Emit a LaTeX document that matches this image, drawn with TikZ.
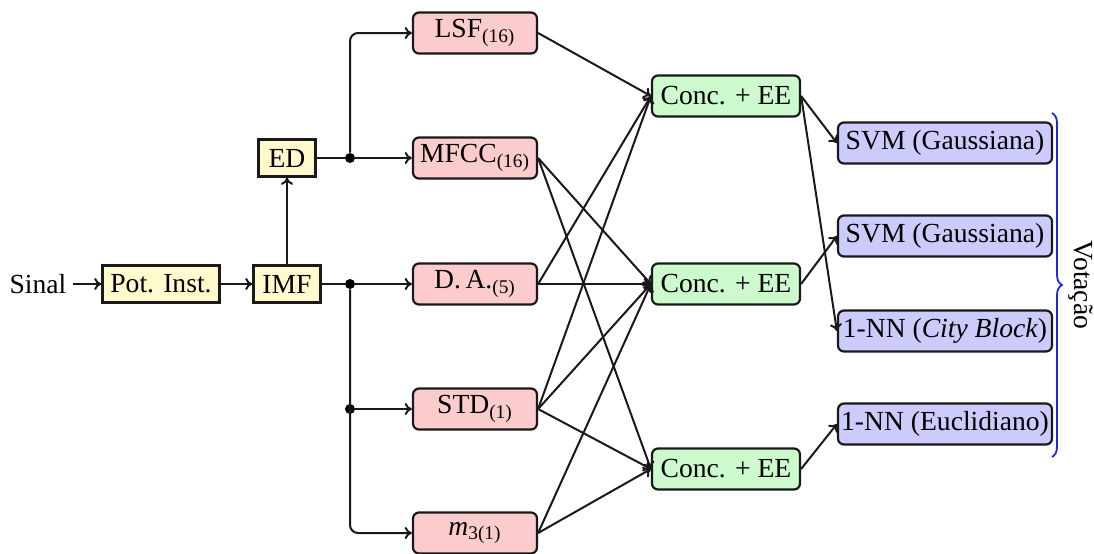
\documentclass[tikz,border=0pt]{standalone}
\usepackage{fontspec}
\setmainfont{Liberation Serif}
\usetikzlibrary{decorations.pathreplacing,arrows.meta}

\definecolor{prefill}{RGB}{255,250,205}
\definecolor{featfill}{RGB}{252,204,204}
\definecolor{concfill}{RGB}{204,250,204}
\definecolor{clsfill}{RGB}{204,204,252}
\definecolor{bracecol}{RGB}{30,40,220}

\tikzset{
  box/.style={draw=black!90, line width=1.1pt, inner sep=1pt, align=center},
  prebox/.style={box, fill=prefill, minimum height=18.5pt},
  featbox/.style={box, fill=featfill, rounded corners=3pt, minimum width=62pt, minimum height=20.5pt},
  concbox/.style={box, fill=concfill, rounded corners=3pt, minimum width=74pt, minimum height=20.5pt},
  clsbox/.style={box, fill=clsfill, rounded corners=3pt, minimum width=107pt, minimum height=20.5pt},
  wire/.style={line width=1pt, black!90},
  link/.style={wire, -{To[length=3.6pt, width=6pt]}},
  dot/.style={circle, fill=black, inner sep=0pt, minimum size=5pt}
}

\begin{document}
\begin{tikzpicture}[x=0.5pt, y=-0.5pt, font=\fontsize{13.8}{16}\selectfont]
\useasboundingbox (0,0) rectangle (1094,553);

% front end
\node (sinal) at (38,284) {Sinal};
\node[prebox, minimum width=58.5pt] (pot) at (161,284) {Pot. Inst.};
\node[prebox, minimum width=33.5pt] (imf) at (287,284) {IMF};
\node[prebox, minimum width=28.5pt] (ed) at (287,158) {ED};

% feature extractors
\node[featbox] (lsf)  at (475,33)  {LSF\textsubscript{(16)}};
\node[featbox] (mfcc) at (475,158) {MFCC\textsubscript{(16)}};
\node[featbox] (da)   at (475,284) {D.\,A.\textsubscript{(5)}};
\node[featbox] (std)  at (475,409) {STD\textsubscript{(1)}};
\node[featbox] (m3)   at (475,533) {\textit{m}\textsubscript{3(1)}};

% concatenation + feature selection
\node[concbox] (c1) at (726,96)  {Conc. + EE};
\node[concbox] (c2) at (726,284) {Conc. + EE};
\node[concbox] (c3) at (726,469) {Conc. + EE};

% classifiers
\node[clsbox] (svm1) at (945,143) {SVM (Gaussiana)};
\node[clsbox] (svm2) at (945,236) {SVM (Gaussiana)};
\node[clsbox] (nncb) at (945,331) {1-NN (\textit{City Block})};
\node[clsbox] (nneu) at (945,424) {1-NN (Euclidiano)};

% branch points
\node[dot] (j1) at (350,158) {};
\node[dot] (j2) at (350,284) {};
\node[dot] (j3) at (350,409) {};

% signal chain
\draw[link] (sinal) -- (pot);
\draw[link] (pot) -- (imf);
\draw[link] (imf) -- (ed);
\draw[wire] (ed) -- (j1);
\draw[wire] (imf) -- (j2);
\draw[link] (j1) -- (mfcc.west);
\draw[link, rounded corners=4pt] (j1) |- (lsf.west);
\draw[link] (j2) -- (da.west);
\draw[link] (j3) -- (std.west);
\draw[link, rounded corners=4pt] (j2) |- (m3.west);

% features into the concatenation blocks
\draw[link] (lsf.east) -- (c1.west);
\draw[link] (da.east)  -- (c1.west);
\draw[link] (std.east) -- (c1.west);

\draw[link] (mfcc.east) -- (c2.west);
\draw[link] (da.east)   -- (c2.west);
\draw[link] (std.east)  -- (c2.west);
\draw[link] (m3.east)   -- (c2.west);

\draw[link] (mfcc.east) -- (c3.west);
\draw[link] (std.east)  -- (c3.west);
\draw[link] (m3.east)   -- (c3.west);

% concatenation blocks into classifiers
\draw[link] (c1.east) -- (svm1.west);
\draw[link] (c1.east) -- (nncb.west);
\draw[link] (c2.east) -- (svm2.west);
\draw[link] (c3.east) -- (nneu.west);

% voting
\coordinate (btop) at (1052,113);
\coordinate (bbot) at (1052,457);
\draw[bracecol, line width=0.9pt, decorate, decoration={brace, amplitude=5pt}] (btop) -- (bbot);
\node[rotate=-90] (vot) at (1081,285) {Votação};
\end{tikzpicture}
\end{document}
